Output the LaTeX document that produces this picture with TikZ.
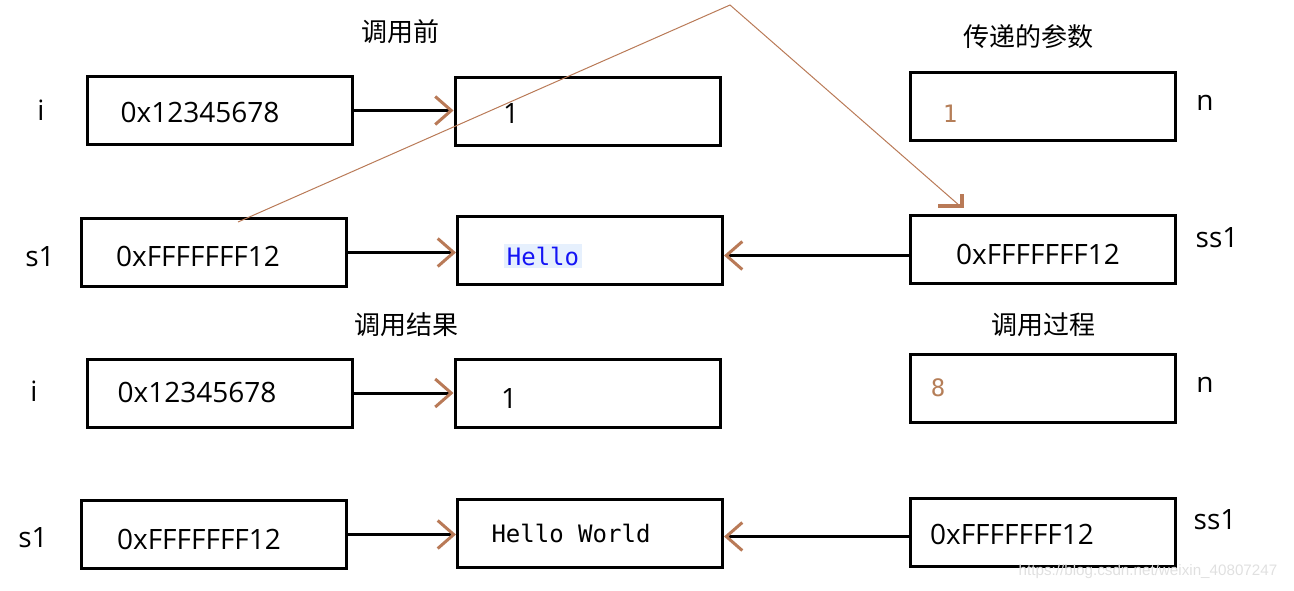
\documentclass[tikz,border=0pt]{standalone}
\usepackage{fontspec}
\setmainfont{Open Sans}
\newfontfamily\cjk{Noto Sans CJK SC}
\newfontfamily\code{DejaVu Sans Mono}
\newfontfamily\wm{Liberation Sans}
\usetikzlibrary{arrows.meta}
\definecolor{brn}{RGB}{185,122,87}
\definecolor{numc}{RGB}{181,126,88}
\definecolor{hlbg}{RGB}{230,240,253}
\definecolor{hlfg}{RGB}{20,20,245}
\tikzset{
  cell/.style={draw,line width=1.5pt,minimum width=132.5pt,minimum height=34pt,inner sep=0pt},
  val/.style={font=\fontsize{14}{16}\selectfont,inner sep=0pt},
  varname/.style={font=\fontsize{14}{16}\selectfont,inner sep=0pt},
  heading/.style={font=\cjk\fontsize{13}{15}\selectfont,inner sep=0pt},
  lit/.style={font=\code\fontsize{12}{14}\selectfont,inner sep=0pt},
  ptr/.style={line width=1.5pt,-{Straight Barb[color=brn,length=8pt,width=14pt,line width=1.5pt]}},
  trace/.style={brn,line width=0.5pt}
}
\begin{document}
\begin{tikzpicture}[x=0.5pt,y=-0.5pt]
\useasboundingbox (0,0) rectangle (1294,590);
% titles
\node[heading] (t1) at (400,32) {调用前};
\node[heading] (t2) at (1028,37) {传递的参数};
\node[heading] (t3) at (406,325) {调用结果};
\node[heading] (t4) at (1043,325) {调用过程};
% boxes
\node[cell] (lb1) at (219.5,110.5) {};
\node[cell] (mb1) at (587.5,111.5) {};
\node[cell] (rb1) at (1043,106) {};
\node[cell] (lb2) at (214,252.5) {};
\node[cell] (mb2) at (590,250.5) {};
\node[cell] (rb2) at (1043,249.5) {};
\node[cell] (lb3) at (219.5,393) {};
\node[cell] (mb3) at (587.5,393) {};
\node[cell] (rb3) at (1043,388) {};
\node[cell] (lb4) at (214,534.5) {};
\node[cell] (mb4) at (590,533) {};
\node[cell] (rb4) at (1043,532.5) {};
% variable names
\node[varname] (n1) at (41,110) {i};
\node[varname] (n2) at (40,257) {s1};
\node[varname] (n3) at (34,391) {i};
\node[varname] (n4) at (33,538) {s1};
\node[varname] (n5) at (1205,103) {n};
\node[varname] (n6) at (1217,238) {ss1};
\node[varname] (n7) at (1205,385) {n};
\node[varname] (n8) at (1215,520) {ss1};
% values
\node[val] (v1) at (200,112) {0x12345678};
\node[val] (v2) at (511,114) {1};
\node[val] (v3) at (198,256) {0xFFFFFFF12};
\node[lit,fill=hlbg,inner sep=1.5pt,text=hlfg] (v4) at (543,256) {Hello};
\node[val] (v5) at (1038,254) {0xFFFFFFF12};
\node[lit,text=numc] (v6) at (950,114) {1};
\node[val] (v7) at (197,392) {0x12345678};
\node[val] (v8) at (509,398) {1};
\node[lit,text=numc] (v9) at (938,388) {8};
\node[val] (v10) at (199,539) {0xFFFFFFF12};
\node[lit] (v11) at (571,533) {Hello World};
\node[val] (v12) at (1012,534) {0xFFFFFFF12};
% pointers
\draw[ptr] (lb1.east) -- (lb1.east -| mb1.west);
\draw[ptr] (lb2.east) -- (lb2.east -| mb2.west);
\draw[ptr] ([yshift=-3pt]rb2.west) -- ([yshift=-3pt]rb2.west -| mb2.east);
\draw[ptr] (lb3.east) -- (lb3.east -| mb3.west);
\draw[ptr] (lb4.east) -- (lb4.east -| mb4.west);
\draw[ptr] ([yshift=-2pt]rb4.west) -- ([yshift=-2pt]rb4.west -| mb4.east);
% copy of the address
\coordinate (c0) at (238,222);
\coordinate (c1) at (730,5);
\coordinate (c2) at (960,206);
\draw[trace] (c0) -- (c1) -- (c2);
\draw[brn,line width=2pt] ([xshift=-11pt]c2) -- ([xshift=1pt]c2) -- ([xshift=1pt,yshift=6pt]c2);
% watermark
\node[font=\wm\fontsize{7.6}{9}\selectfont,text=black!12,inner sep=0pt] (wm) at (1148,572) {https://blog.csdn.net/weixin\_40807247};
\end{tikzpicture}
\end{document}
